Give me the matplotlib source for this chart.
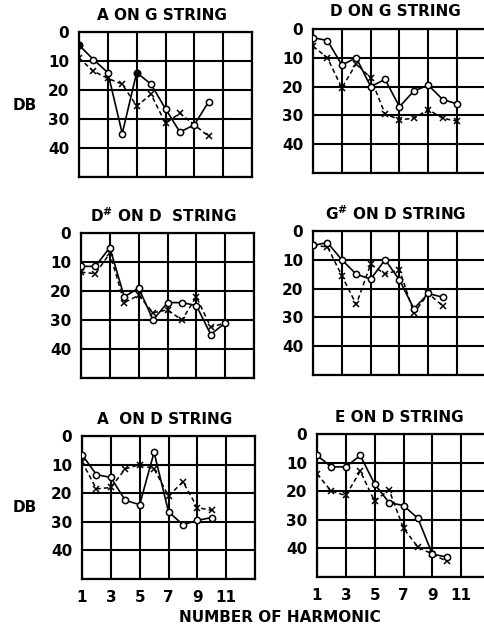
import numpy as np
import matplotlib
matplotlib.use("Agg")
import matplotlib.pyplot as plt

# ---------------- DATA ----------------
# attenuation in DB (0 at top) for harmonics 1..n
titles = ["A ON G STRING", "D ON G STRING",
          r"D$^{\#}$ ON D  STRING", r"G$^{\#}$ ON D STRING",
          "A  ON D STRING", "E ON D STRING"]

a_on_g_solid  = [4.5, 9.5, 14, 35, 14, 18, 26.5, 34.5, 32, 24]
a_on_g_dashed = [9, 13.5, 16, 18, 25.5, 21.5, 31.5, 28, 32, 36]

d_on_g_solid  = [3, 4, 12.5, 10, 20, 17.5, 27, 21.5, 19.5, 24.5, 26]
d_on_g_dashed = [6, 10, 20.5, 12, 17, 29.5, 31.5, 31, 28, 31, 32]

ds_on_d_solid  = [11.5, 11.5, 5, 22, 19, 30, 24, 24, 25, 35, 31]
ds_on_d_dashed = [13.5, 14, 7, 24, 21.5, 27.5, 26.5, 30, 22, 32.5, 31]

gs_on_d_solid  = [5, 4, 10, 15, 16.7, 10, 17, 27, 21.7, 23]
gs_on_d_dashed = [5, 5.5, 15.5, 25.5, 11.5, 15, 13.5, 28.5, 21.7, 26]

a_on_d_solid  = [6.5, 13.5, 14.5, 22.5, 24, 5.7, 26.5, 31, 29.5, 28.5]
a_on_d_dashed = [9, 18.5, 18, 11.5, 10, 11.5, 21, 16, 25, 26]

e_on_d_solid  = [7.5, 11.5, 11.5, 7.5, 17.5, 24, 25, 29.5, 42, 43]
e_on_d_dashed = [14, 20, 21.5, 13, 23.5, 19.5, 33, 39.5, 42, 44.5]

# filled points (harmonic numbers) on the solid curve
filled = {0: [1, 5]}

series = [(a_on_g_solid, a_on_g_dashed), (d_on_g_solid, d_on_g_dashed),
          (ds_on_d_solid, ds_on_d_dashed), (gs_on_d_solid, gs_on_d_dashed),
          (a_on_d_solid, a_on_d_dashed), (e_on_d_solid, e_on_d_dashed)]

x_ticks = [1, 3, 5, 7, 9, 11]
y_ticks = [0, 10, 20, 30, 40]

# ---------------- LAYOUT (pixels) ----------------
W, H = 484, 629
# left, top, bottom of each grid box
boxes = [(79, 32, 177), (313, 29, 173),
         (81, 233, 378), (313, 231, 375),
         (82, 436, 579), (317, 434, 577)]
BOX_W = 173

FONT = "DejaVu Sans"
plt.rcParams['font.family'] = [FONT]
plt.rcParams['mathtext.default'] = 'bf'

fig = plt.figure(figsize=(W / 100, H / 100), dpi=100)

for i, ((left, top, bottom), title, (solid, dashed)) in enumerate(zip(boxes, titles, series)):
    ax = fig.add_axes([left / W, 1 - bottom / H, BOX_W / W, (bottom - top) / H])
    ax.set_xlim(1, 13)
    ax.set_ylim(50, 0)
    ax.set_xticks(np.arange(1, 14, 2))
    ax.set_yticks(np.arange(0, 51, 10))
    ax.grid(True, color='black', linewidth=1.5)
    for s in ax.spines.values():
        s.set_linewidth(1.6)
    ax.tick_params(length=0, labelsize=11, pad=7)
    ax.set_yticklabels([str(v) for v in y_ticks] + [''], fontweight='bold')
    if i >= 4:
        ax.set_xticklabels([str(v) for v in x_ticks] + [''], fontweight='bold')
        ax.tick_params(axis='x', pad=8)
    else:
        ax.set_xticklabels([])

    hs = np.arange(1, len(solid) + 1)
    hd = np.arange(1, len(dashed) + 1)
    ax.plot(hd, dashed, color='black', linestyle=(0, (3, 2)), linewidth=1.1,
            marker='x', markersize=5, markeredgewidth=1.1, zorder=3)
    ax.plot(hs, solid, color='black', linestyle='-', linewidth=1.2,
            marker='o', markersize=4.5, markerfacecolor='white',
            markeredgewidth=1.1, zorder=4)
    for h in filled.get(i, []):
        ax.plot(h, solid[h - 1], 'o', color='black', markersize=4.5, zorder=5)

    cx = (left + BOX_W / 2) / W
    fig.text(cx - 0.008, 1 - (top - 17) / H, title, ha='center', va='center',
             fontsize=11, fontweight='bold')

fig.text(25 / W, 1 - 105 / H, "DB", ha='center', va='center', fontsize=11, fontweight='bold')
fig.text(25 / W, 1 - 507 / H, "DB", ha='center', va='center', fontsize=11, fontweight='bold')
fig.text(280 / W, 1 - 617 / H, "NUMBER OF HARMONIC", ha='center', va='center',
         fontsize=11, fontweight='bold')

fig.savefig("out.png", dpi=100)
